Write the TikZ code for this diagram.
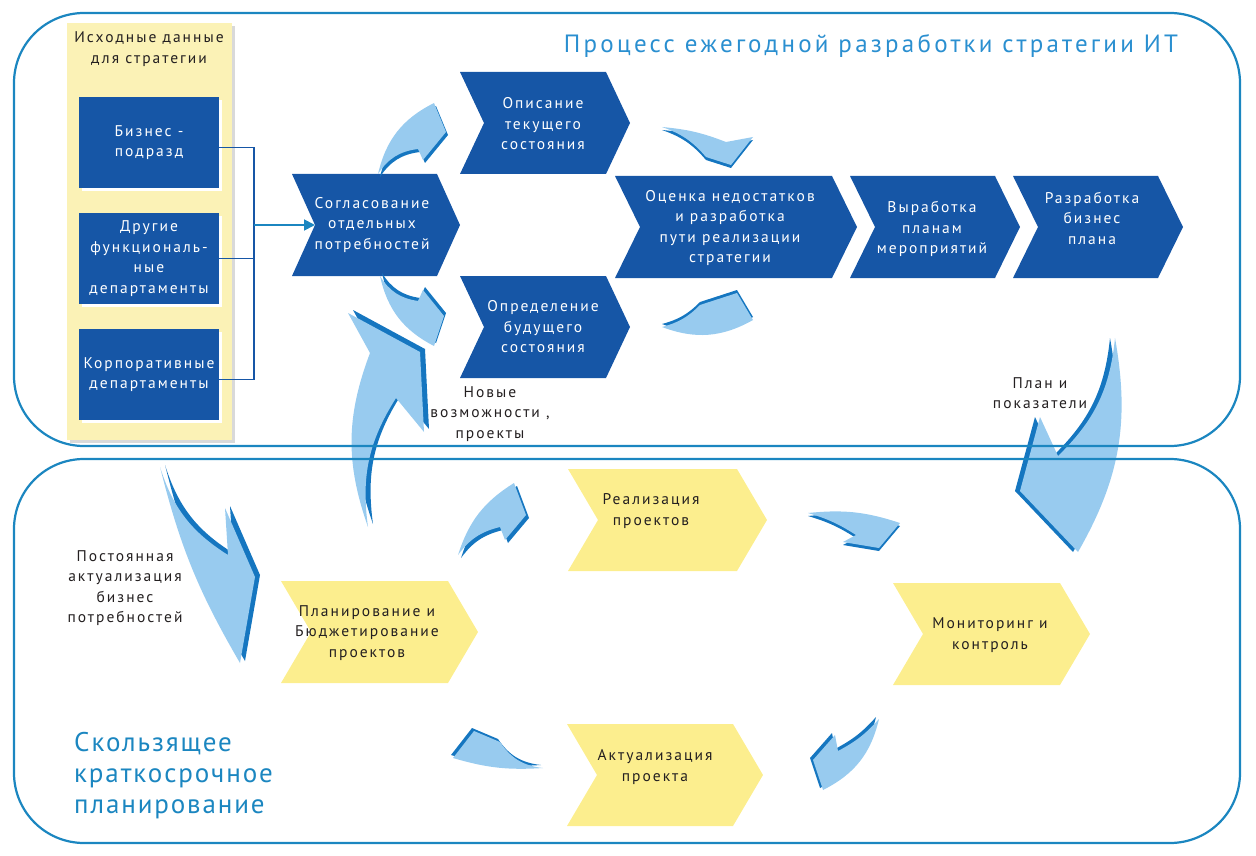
\documentclass[tikz,border=0pt]{standalone}
\usepackage{fontspec}
\setmainfont{PT Sans}[LetterSpace=13]
\usepackage{xcolor}
\usetikzlibrary{arrows.meta,shadows}

\definecolor{frameblue}{HTML}{1B86C0}
\definecolor{titleblue}{HTML}{2A8FD0}
\definecolor{stratblue}{HTML}{1656A6}
\definecolor{srcyellow}{HTML}{FBF2B6}
\definecolor{stepyellow}{HTML}{FCEE8E}
\definecolor{swlight}{HTML}{98CBEF}
\definecolor{swdark}{HTML}{1576C0}
\definecolor{inktext}{HTML}{231F20}

% chevron: style, depth, name, left x, top y, tip x, text position, text
\newcommand\chevron[8]{%
  \fill[#1] (#4,#5) -- ({#6-#2},#5) -- (#6,{#5+51}) -- ({#6-#2},{#5+102})
    -- (#4,{#5+102}) -- ({#4+#2},{#5+51}) -- cycle;
  \coordinate (#3-in) at ({#4+#2},{#5+51});
  \node[#1 text] (#3) at #7 {#8};}
% curved 3d arrow: shadow shift, outline
\newcommand\swoosh[2]{%
  \fill[swdark,shift={#1}] #2;
  \fill[swlight] #2;}

\begin{document}
\begin{tikzpicture}[x=1pt,y=-1pt,
  every node/.style={align=center,inner sep=0pt,font=\fontsize{15.5}{20.5}\selectfont},
  bluechev/.style={fill=stratblue},
  bluechev text/.style={text=white},
  yellowchev/.style={fill=stepyellow},
  yellowchev text/.style={text=inktext},
  dept/.style={fill=stratblue,text=white,minimum width=140,minimum height=91,
    drop shadow={shadow xshift=3pt,shadow yshift=-3pt,fill=white,opacity=1}},
  note/.style={text=inktext},
  frame/.style={draw=frameblue,line width=2.2pt,rounded corners=70pt},
  bracket/.style={draw=stratblue,line width=1.6pt},
  feed/.style={draw=frameblue,line width=1.8pt,-{Triangle[length=11pt,width=11pt]}}]

  \useasboundingbox (0,0) rectangle (1256,856);

  % source data column
  \fill[srcyellow,drop shadow={shadow xshift=3pt,shadow yshift=-3pt,fill=black!15,opacity=1}]
    (67,23) rectangle (232,440);
  \node[note] (srchead) at (149,49) {Исходные данные\\для стратегии};
  \node[dept] (biz) at (149,142.5) {Бизнес -\\подразд};
  \node[dept] (func) at (149,258.5) {Другие\\функциональ-\\ные\\департаменты};
  \node[dept] (corp) at (149,374.5) {Корпоративные\\департаменты};
  \coordinate (fork) at (254,225);
  \draw[bracket] ([yshift=-5pt]biz.east) -| (fork) |- ([yshift=-5pt]corp.east);
  \draw[bracket] (func.east) -- (func.east -| fork);

  % annual strategy chain
  \chevron{bluechev}{23}{sogl}{292}{174}{460}{(372,225)}{Согласование\\отдельных\\потребностей}
  \chevron{bluechev}{24}{opis}{460}{72}{630}{(543,124)}{Описание\\текущего\\состояния}
  \chevron{bluechev}{24}{opred}{460}{276}{630}{(543,327)}{Определение\\будущего\\состояния}
  \chevron{bluechev}{25}{ocen}{615}{176}{857}{(730,228)}{Оценка недостатков\\и разработка\\пути реализации\\стратегии}
  \chevron{bluechev}{25}{vyrab}{850}{176}{1020}{(932,229)}{Выработка\\планам\\мероприятий}
  \chevron{bluechev}{25}{razrab}{1013}{176}{1183}{(1092,218)}{Разработка\\бизнес\\плана}
  \draw[feed] (fork) -- (sogl-in);

  % rolling short-term cycle
  \chevron{yellowchev}{30}{real}{568}{469}{767}{(651,511)}{Реализация\\проектов}
  \chevron{yellowchev}{30}{plan}{281}{581}{478}{(367,633)}{Планирование и\\Бюджетирование\\проектов}
  \chevron{yellowchev}{30}{monit}{893}{583}{1090}{(990,635)}{Мониторинг и\\контроль}
  \chevron{yellowchev}{30}{aktual}{567}{724}{763}{(655,767)}{Актуализация\\проекта}

  % curved arrows
  \swoosh{(2,3)}{(378,174) to[bend left=25] (434,103) -- (446,132) -- (423,160) -- (418,149) to[bend left=-25] (378,174) -- cycle}
  \swoosh{(2,-3)}{(380,276) to[bend left=-25] (418,301) -- (423,290) -- (444,316) -- (434,346) to[bend left=25] (380,276) -- cycle}
  \swoosh{(0,3)}{(662,127) to[bend left=8] (726,142) -- (753,137) -- (731,165) -- (706,157) to[bend left=-15] (662,127) -- cycle}
  \swoosh{(0,-3)}{(662,327) to[bend left=-15] (700,305) -- (737,293) -- (753,320) to[bend left=25] (662,327) -- cycle}
  \swoosh{(5,-3)}{(368,527) to[bend left=20] (370,353) -- (348,313) -- (420,352) -- (424,432) -- (396,398) to[bend left=-20] (368,527) -- cycle}
  \swoosh{(5,-2)}{(160,467) to[bend left=-20] (228,555) -- (225,508) -- (255,577) -- (240,663) to[bend left=8] (160,467) -- cycle}
  \swoosh{(-5,0)}{(1115,338) to[bend left=20] (1058,456) -- (1040,417) -- (1020,491) -- (1078,552) to[bend left=-20] (1115,338) -- cycle}
  \swoosh{(3,3)}{(458,555) to[bend left=20] (514,483) -- (526,515) -- (505,540) -- (500,527) to[bend left=-20] (458,555) -- cycle}
  \swoosh{(0,3)}{(808,513) to[bend left=12] (900,523) -- (879,548) -- (843,542) -- (856,535) to[bend left=-8] (808,513) -- cycle}
  \swoosh{(-3,-2)}{(879,719) to[bend left=10] (838,751) -- (835,735) -- (813,760) -- (823,790) to[bend left=-25] (879,719) -- cycle}
  \swoosh{(-2,-3)}{(543,768) to[bend left=25] (500,742) -- (474,731) -- (453,758) to[bend left=-10] (543,768) -- cycle}

  % frames
  \draw[frame] (14,13) rectangle (1240,446);
  \draw[frame] (14,459) rectangle (1240,843);

  % free labels
  \node[note] (newops) at (490,414) {Новые\\возможности ,\\проекты};
  \node[note] (plankpi) at (1040,393) {План и\\показатели};
  \node[note] (bizneeds) at (125,588) {Постоянная\\актуализация\\бизнес\\потребностей};

  % titles
  \node[text=titleblue,font=\fontsize{25}{28}\selectfont] (annual) at (871,46)
    {Процесс ежегодной разработки стратегии ИТ};
  \node[text=frameblue,align=left,anchor=west,font=\fontsize{27}{31}\selectfont\addfontfeatures{LetterSpace=7}] (rolling) at (74,776)
    {Скользящее\\краткосрочное\\планирование};
\end{tikzpicture}
\end{document}
